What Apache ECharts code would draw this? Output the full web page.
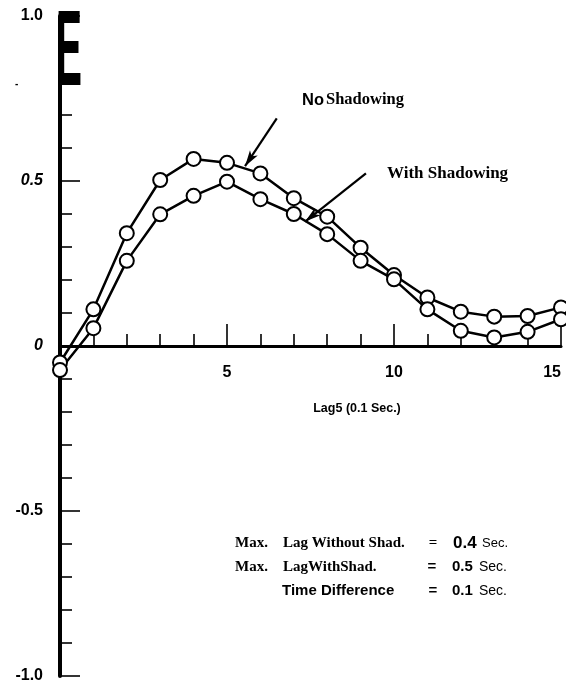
<!DOCTYPE html>
<html>
<head>
<meta charset="utf-8">
<script src="https://cdn.jsdelivr.net/npm/echarts@6/dist/echarts.min.js"></script>
<style>html,body{margin:0;padding:0;background:#fff;}#c{width:566px;height:684px;}</style>
</head>
<body>
<div id="c"></div>
<script>
// ---- data ----
var lags = [0,1,2,3,4,5,6,7,8,9,10,11,12,13,14,15];
var noShadowing = [-0.05,0.111,0.342,0.503,0.567,0.555,0.523,0.448,0.392,0.298,0.215,0.147,0.104,0.089,0.091,0.117];
var withShadowing = [-0.073,0.054,0.258,0.399,0.455,0.498,0.445,0.400,0.339,0.258,0.202,0.111,0.046,0.026,0.043,0.081];
var yTickLabels = {'-1': '-1.0', '-0.5': '-0.5', '0': '0', '0.5': '0.5', '1': '1.0'};
var xTickLabels = {'5': '5', '10': '10', '15': '15'};
var arrowNo = [[6.49, 0.690], [5.54, 0.545]];
var arrowWith = [[9.16, 0.523], [7.34, 0.377]];

function pairs(xs, ys){ return xs.map(function(x,i){ return [x, ys[i]]; }); }

var SANS = '"Liberation Sans", Arial, sans-serif';
var SERIF = '"Liberation Serif", "Times New Roman", serif';

var GRID_TOP = 16, GRID_BOTTOM = 8, H = 684;
var plotH = H - GRID_TOP - GRID_BOTTOM;
// move the x axis (line, ticks, labels) up to y = 0
var xAxisOffset = -plotH * (0 - (-1)) / (1 - (-1));

function txt(x, y, s, opts){
  opts = opts || {};
  return {
    type: 'text', x: x, y: y, z: 100,
    scaleX: opts.scaleX || 1,
    style: {
      text: s,
      fontSize: opts.size || 15,
      fontWeight: opts.weight || 'bold',
      fontStyle: opts.style || 'normal',
      fontFamily: opts.family || SANS,
      fill: '#000',
      align: opts.align || 'left', textAlign: opts.align || 'left',
      verticalAlign: 'middle', textVerticalAlign: 'middle'
    }
  };
}

var chart = echarts.init(document.getElementById('c'), null, {renderer: 'canvas'});
var lineStyleCommon = {color: '#000', width: 2.5};
var itemStyleCommon = {color: '#fff', borderColor: '#000', borderWidth: 2};

function arrowMark(a){
  return {
    silent: true, animation: false,
    symbol: ['none', 'arrow'], symbolSize: [7, 16],
    label: {show: false},
    lineStyle: {color: '#000', width: 2.2, type: 'solid'},
    emphasis: {disabled: true},
    data: [[{coord: a[0]}, {coord: a[1]}]]
  };
}

chart.setOption({
  animation: false,
  backgroundColor: '#fff',
  grid: {left: 60, right: 5, top: GRID_TOP, bottom: GRID_BOTTOM, containLabel: false, outerBoundsMode: 'none'},
  xAxis: {
    type: 'value', min: 0, max: 15, interval: 5, position: 'bottom', offset: xAxisOffset,
    axisLine: {onZero: false, lineStyle: {color: '#000', width: 3}},
    axisTick: {show: true, inside: true, length: 22, lineStyle: {color: '#000', width: 1.6}},
    minorTick: {show: true, splitNumber: 5, length: 12, lineStyle: {color: '#000', width: 1.6}},
    splitLine: {show: false},
    axisLabel: {
      margin: 19, color: '#000', fontSize: 16, fontWeight: 'bold', fontFamily: SANS,
      showMaxLabel: true, hideOverlap: false, alignMaxLabel: 'right',
      formatter: function(v){ return xTickLabels[String(v)] || ''; }
    }
  },
  yAxis: {
    type: 'value', min: -1, max: 1, interval: 0.5,
    axisLine: {onZero: false, lineStyle: {color: '#000', width: 4}},
    axisTick: {show: true, inside: true, length: 20, lineStyle: {color: '#000', width: 1.6}},
    minorTick: {show: true, splitNumber: 5, length: 12, lineStyle: {color: '#000', width: 1.6}},
    splitLine: {show: false},
    axisLabel: {
      margin: 17, color: '#000', showMaxLabel: true, showMinLabel: true,
      formatter: function(v){
        var key = String(Math.round(v*10)/10);
        var s = yTickLabels[key] || '';
        var italic = (key === '0.5' || key === '0');
        return '{' + (italic ? 'i' : 'n') + '|' + s + '}';
      },
      rich: {
        n: {fontSize: 16, fontWeight: 'bold', fontFamily: SANS, color: '#000'},
        i: {fontSize: 16, fontWeight: 'bold', fontStyle: 'italic', fontFamily: SANS, color: '#000'}
      }
    }
  },
  series: [
    {
      name: 'No Shadowing', type: 'line', data: pairs(lags, noShadowing),
      symbol: 'circle', symbolSize: 14, showAllSymbol: true,
      lineStyle: lineStyleCommon, itemStyle: itemStyleCommon, z: 3,
      markLine: arrowMark(arrowNo)
    },
    {
      name: 'With Shadowing', type: 'line', data: pairs(lags, withShadowing),
      symbol: 'circle', symbolSize: 14, showAllSymbol: true,
      lineStyle: lineStyleCommon, itemStyle: itemStyleCommon, z: 3,
      markLine: arrowMark(arrowWith)
    }
  ],
  graphic: [
    txt(56, 55, 'E', {size: 108, scaleX: 0.36, family: SANS}),
    txt(15, 84, '-', {size: 10}),
    txt(302, 100, 'No', {size: 16.5, family: SANS}),
    txt(326, 100, 'Shadowing', {size: 16.5, family: SERIF}),
    txt(387, 174, 'With Shadowing', {size: 17, family: SERIF}),
    txt(357, 409, 'Lag5 (0.1 Sec.)', {size: 12.5, align: 'center'}),
    txt(235, 543, 'Max.', {size: 15, family: SERIF}),
    txt(283, 543, 'Lag Without Shad.', {size: 15, family: SERIF}),
    txt(433, 543, '=', {size: 15, family: SERIF, align: 'center'}),
    txt(453, 543, '0.4', {size: 17}),
    txt(482, 543, 'Sec.', {size: 13, weight: 'normal'}),
    txt(235, 567, 'Max.', {size: 15, family: SERIF}),
    txt(283, 567, 'LagWithShad.', {size: 15, family: SERIF}),
    txt(432, 567, '=', {size: 15, align: 'center'}),
    txt(452, 567, '0.5', {size: 15}),
    txt(479, 567, 'Sec.', {size: 14, weight: 'normal'}),
    txt(282, 591, 'Time Difference', {size: 15}),
    txt(433, 591, '=', {size: 15, align: 'center'}),
    txt(452, 591, '0.1', {size: 15}),
    txt(479, 591, 'Sec.', {size: 14, weight: 'normal'})
  ]
});
</script>
</body>
</html>
